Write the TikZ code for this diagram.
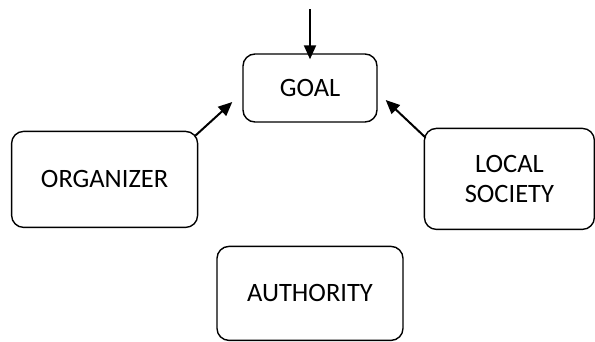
\documentclass[tikz,border=0pt]{standalone}
\usepackage{fontspec}
\setmainfont{Carlito}
\usetikzlibrary{arrows.meta,positioning,calc}

\begin{document}
\begin{tikzpicture}[
  box/.style={draw=black,line width=1.4pt,rounded corners=12pt,fill=white,align=center,font=\fontsize{26.5}{30}\selectfont,inner sep=0pt},
  arr/.style={-{Triangle[length=14pt,width=12pt]},line width=2pt,black}
]
\useasboundingbox (0,0) rectangle (595pt,-341pt);
\node[box,minimum width=134pt,minimum height=68pt] (goal) at (310pt,-88pt) {GOAL};
\node[box,minimum width=186pt,minimum height=96pt,below left=8pt and 44pt of goal] (organizer) {ORGANIZER};
\node[box,minimum width=170pt,minimum height=101pt,below right=5pt and 46pt of goal] (society) {LOCAL\\SOCIETY};
\node[box,minimum width=186pt,minimum height=94pt,below=123pt of goal] (authority) {AUTHORITY};
\coordinate[above=44pt of goal] (src);
\draw[arr] (src) -- ($(goal.north)+(0,-6pt)$);
\draw[arr] ($(organizer.north east)+(-3pt,-5pt)$) -- ($(goal.west)+(-10pt,-14pt)$);
\draw[arr] ($(society.north west)+(2pt,-10pt)$) -- ($(goal.east)+(8pt,-12pt)$);
\end{tikzpicture}
\end{document}
